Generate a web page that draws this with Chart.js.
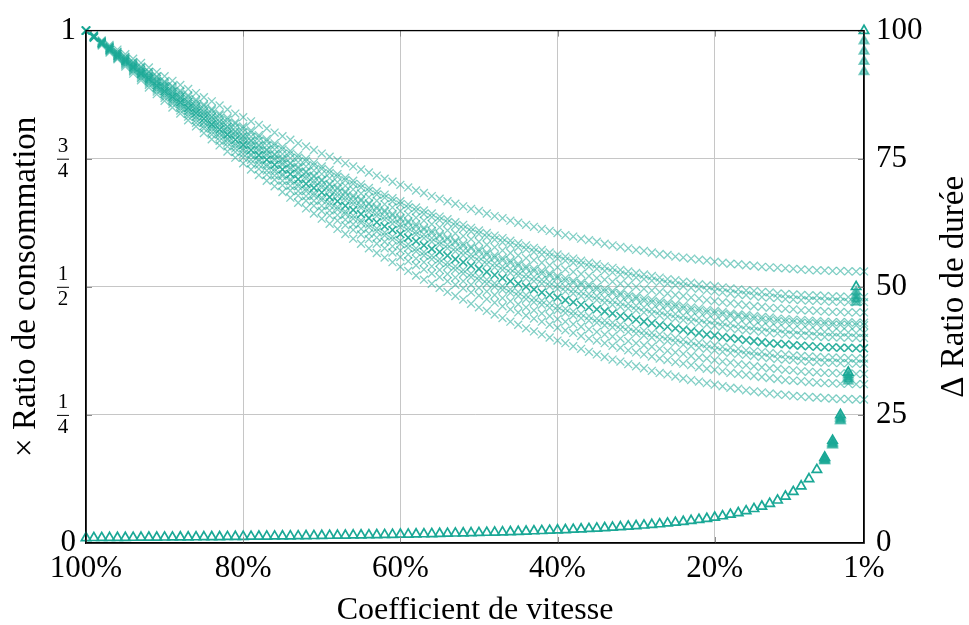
<!DOCTYPE html>
<html>
<head>
<meta charset="utf-8">
<script src="https://cdn.jsdelivr.net/npm/chart.js@4.4.1/dist/chart.umd.min.js"></script>
<style>
  html, body { margin: 0; padding: 0; background: #fff; }
</style>
</head>
<body>
<canvas id="chart" width="969" height="625"></canvas>
<script>
// Coefficient de vitesse (%), one point per percent
const speeds = [100,99,98,97,96,95,94,93,92,91,90,89,88,87,86,85,84,83,82,81,
  80,79,78,77,76,75,74,73,72,71,70,69,68,67,66,65,64,63,62,61,
  60,59,58,57,56,55,54,53,52,51,50,49,48,47,46,45,44,43,42,41,
  40,39,38,37,36,35,34,33,32,31,30,29,28,27,26,25,24,23,22,21,
  20,19,18,17,16,15,14,13,12,11,10,9,8,7,6,5,4,3,2,1];

const xTicks = [100, 80, 60, 40, 20, 1];
const leftTicks = [0, 0.25, 0.5, 0.75, 1];
const leftTickLabels = ['0', ['1','4'], ['1','2'], ['3','4'], '1'];
const rightTicks = [0, 25, 50, 75, 100];

// Ratio de consommation (crosses), one series per run
const conso1 = [1,.991,.981,.972,.963,.954,.945,.937,.928,.919,.911,.902,.894,.886,.878,.870,.862,.854,.846,.838,
  .831,.823,.816,.809,.801,.794,.787,.780,.774,.767,.760,.754,.747,.741,.735,.729,.723,.717,.711,.705,
  .699,.694,.688,.683,.677,.672,.667,.662,.657,.652,.648,.643,.638,.634,.629,.625,.621,.617,.613,.609,
  .605,.601,.598,.594,.591,.588,.584,.581,.578,.575,.572,.570,.567,.564,.562,.559,.557,.555,.553,.551,
  .549,.547,.545,.544,.542,.541,.539,.538,.537,.536,.535,.534,.533,.532,.532,.531,.531,.530,.530,.530];
const conso2 = [1,.990,.979,.969,.959,.949,.939,.930,.920,.911,.901,.892,.883,.874,.865,.856,.847,.838,.830,.821,
  .813,.805,.796,.788,.780,.773,.765,.757,.750,.742,.735,.728,.720,.713,.707,.700,.693,.686,.680,.673,
  .667,.661,.655,.649,.643,.637,.632,.626,.621,.615,.610,.605,.600,.595,.590,.585,.581,.576,.572,.567,
  .563,.559,.555,.551,.547,.544,.540,.537,.533,.530,.527,.524,.521,.518,.515,.513,.510,.508,.505,.503,
  .501,.499,.497,.495,.493,.492,.490,.489,.487,.486,.485,.484,.483,.483,.482,.481,.481,.480,.480,.480];
const conso3 = [1,.989,.979,.969,.958,.948,.938,.928,.919,.909,.899,.890,.880,.871,.862,.853,.844,.835,.826,.818,
  .809,.801,.792,.784,.776,.768,.760,.752,.745,.737,.730,.722,.715,.708,.701,.694,.687,.680,.674,.667,
  .661,.654,.648,.642,.636,.630,.625,.619,.613,.608,.603,.597,.592,.587,.582,.577,.573,.568,.563,.559,
  .555,.551,.547,.543,.539,.535,.531,.528,.524,.521,.518,.515,.512,.509,.506,.503,.501,.498,.496,.493,
  .491,.489,.487,.485,.484,.482,.480,.479,.478,.476,.475,.474,.473,.473,.472,.471,.471,.470,.470,.470];
const conso4 = [1,.989,.978,.968,.957,.946,.936,.926,.916,.905,.896,.886,.876,.866,.857,.847,.838,.829,.820,.811,
  .802,.793,.785,.776,.768,.759,.751,.743,.735,.727,.720,.712,.704,.697,.690,.682,.675,.668,.661,.655,
  .648,.641,.635,.629,.622,.616,.610,.604,.599,.593,.588,.582,.577,.571,.566,.561,.556,.552,.547,.542,
  .538,.534,.529,.525,.521,.517,.514,.510,.506,.503,.500,.496,.493,.490,.487,.484,.482,.479,.477,.474,
  .472,.470,.468,.466,.464,.462,.461,.459,.458,.457,.456,.454,.454,.453,.452,.451,.451,.450,.450,.450];
const conso5 = [1,.989,.977,.966,.955,.944,.934,.923,.912,.902,.892,.882,.871,.861,.852,.842,.832,.823,.813,.804,
  .795,.786,.777,.768,.759,.751,.742,.734,.725,.717,.709,.701,.694,.686,.678,.671,.663,.656,.649,.642,
  .635,.628,.622,.615,.609,.602,.596,.590,.584,.578,.573,.567,.561,.556,.551,.545,.540,.535,.531,.526,
  .521,.517,.512,.508,.504,.500,.496,.492,.488,.485,.481,.478,.475,.472,.469,.466,.463,.460,.458,.455,
  .453,.451,.448,.446,.445,.443,.441,.440,.438,.437,.436,.435,.434,.433,.432,.431,.431,.431,.430,.430];
const conso6 = [1,.988,.977,.965,.954,.942,.931,.920,.909,.899,.888,.877,.867,.857,.846,.836,.826,.816,.807,.797,
  .788,.778,.769,.760,.751,.742,.733,.724,.716,.707,.699,.691,.683,.675,.667,.659,.652,.644,.637,.630,
  .622,.615,.608,.602,.595,.588,.582,.576,.570,.563,.558,.552,.546,.540,.535,.529,.524,.519,.514,.509,
  .504,.500,.495,.491,.486,.482,.478,.474,.470,.467,.463,.460,.456,.453,.450,.447,.444,.441,.439,.436,
  .434,.431,.429,.427,.425,.423,.422,.420,.419,.417,.416,.415,.414,.413,.412,.411,.411,.411,.410,.410];
const conso7 = [1,.988,.976,.965,.953,.942,.930,.919,.908,.897,.886,.875,.865,.854,.844,.834,.823,.813,.803,.794,
  .784,.774,.765,.756,.747,.738,.729,.720,.711,.702,.694,.686,.677,.669,.661,.654,.646,.638,.631,.623,
  .616,.609,.602,.595,.588,.582,.575,.569,.562,.556,.550,.544,.538,.533,.527,.522,.516,.511,.506,.501,
  .496,.491,.487,.482,.478,.474,.469,.465,.461,.458,.454,.450,.447,.444,.441,.438,.435,.432,.429,.426,
  .424,.422,.419,.417,.415,.414,.412,.410,.409,.407,.406,.405,.404,.403,.402,.402,.401,.401,.400,.400];
const conso8 = [1,.988,.975,.963,.951,.940,.928,.916,.905,.893,.882,.871,.860,.849,.839,.828,.817,.807,.797,.787,
  .777,.767,.757,.748,.738,.729,.720,.710,.701,.693,.684,.675,.667,.658,.650,.642,.634,.626,.618,.611,
  .603,.596,.589,.581,.574,.568,.561,.554,.548,.541,.535,.529,.523,.517,.511,.506,.500,.495,.489,.484,
  .479,.474,.470,.465,.460,.456,.452,.448,.443,.440,.436,.432,.429,.425,.422,.419,.416,.413,.410,.407,
  .405,.402,.400,.398,.396,.394,.392,.390,.389,.388,.386,.385,.384,.383,.382,.382,.381,.381,.380,.380];
const conso9 = [1,.987,.975,.962,.950,.938,.926,.914,.902,.890,.878,.867,.856,.844,.833,.822,.812,.801,.790,.780,
  .770,.759,.749,.739,.730,.720,.710,.701,.692,.683,.674,.665,.656,.647,.639,.630,.622,.614,.606,.598,
  .590,.583,.575,.568,.561,.554,.547,.540,.533,.526,.520,.514,.507,.501,.495,.490,.484,.478,.473,.468,
  .462,.457,.452,.448,.443,.438,.434,.430,.426,.422,.418,.414,.410,.407,.403,.400,.397,.394,.391,.388,
  .386,.383,.381,.379,.376,.374,.373,.371,.369,.368,.366,.365,.364,.363,.362,.362,.361,.361,.360,.360];
const conso10 = [1,.987,.973,.960,.947,.935,.922,.909,.897,.885,.873,.861,.849,.837,.826,.814,.803,.792,.781,.770,
  .759,.748,.738,.727,.717,.707,.697,.687,.677,.668,.658,.649,.640,.631,.622,.613,.604,.596,.588,.579,
  .571,.563,.555,.548,.540,.533,.525,.518,.511,.504,.498,.491,.484,.478,.472,.466,.460,.454,.448,.443,
  .437,.432,.427,.422,.417,.412,.407,.403,.399,.394,.390,.386,.383,.379,.375,.372,.369,.365,.362,.360,
  .357,.354,.352,.349,.347,.345,.343,.341,.340,.338,.337,.335,.334,.333,.332,.332,.331,.331,.330,.330];
const conso11 = [1,.986,.973,.959,.946,.933,.920,.907,.894,.881,.869,.857,.844,.832,.820,.809,.797,.785,.774,.763,
  .752,.741,.730,.719,.709,.698,.688,.678,.668,.658,.648,.639,.629,.620,.611,.602,.593,.584,.575,.567,
  .558,.550,.542,.534,.526,.519,.511,.504,.497,.489,.483,.476,.469,.462,.456,.450,.444,.438,.432,.426,
  .420,.415,.410,.404,.399,.395,.390,.385,.381,.376,.372,.368,.364,.360,.357,.353,.350,.347,.343,.340,
  .338,.335,.332,.330,.328,.326,.324,.322,.320,.318,.317,.316,.314,.313,.312,.312,.311,.311,.310,.310];
const conso12 = [1,.986,.971,.957,.944,.930,.916,.903,.889,.876,.863,.850,.838,.825,.813,.800,.788,.776,.764,.752,
  .741,.729,.718,.707,.696,.685,.674,.664,.653,.643,.633,.623,.613,.603,.594,.584,.575,.566,.557,.548,
  .539,.531,.522,.514,.506,.498,.490,.482,.475,.467,.460,.453,.446,.439,.432,.426,.419,.413,.407,.401,
  .395,.390,.384,.379,.373,.368,.363,.358,.354,.349,.345,.341,.336,.332,.329,.325,.321,.318,.315,.312,
  .309,.306,.303,.301,.298,.296,.294,.292,.290,.289,.287,.286,.285,.284,.283,.282,.281,.281,.280,.280];
const conso13 = [1,.989,.977,.966,.955,.944,.933,.922,.912,.901,.891,.880,.870,.860,.850,.840,.831,.821,.812,.802,
  .793,.784,.775,.766,.757,.748,.740,.731,.723,.715,.707,.699,.691,.683,.675,.668,.661,.653,.646,.639,
  .632,.625,.618,.612,.605,.599,.593,.587,.580,.575,.569,.563,.557,.552,.547,.541,.536,.531,.526,.522,
  .517,.512,.508,.504,.500,.495,.491,.488,.484,.480,.477,.473,.470,.467,.464,.461,.458,.455,.453,.450,
  .448,.446,.444,.442,.440,.438,.436,.435,.433,.432,.431,.430,.429,.428,.427,.426,.426,.426,.425,.425];
const conso14 = [1,.987,.974,.962,.949,.937,.924,.912,.900,.888,.877,.865,.853,.842,.831,.820,.809,.798,.787,.776,
  .766,.756,.745,.735,.725,.716,.706,.696,.687,.678,.669,.659,.651,.642,.633,.625,.616,.608,.600,.592,
  .584,.576,.569,.561,.554,.547,.540,.533,.526,.519,.513,.506,.500,.494,.488,.482,.476,.470,.465,.459,
  .454,.449,.444,.439,.434,.430,.425,.421,.417,.412,.409,.405,.401,.397,.394,.391,.387,.384,.381,.379,
  .376,.373,.371,.369,.367,.365,.363,.361,.359,.358,.357,.355,.354,.353,.352,.352,.351,.351,.350,.350];

// Ratio de durée (triangles)
const duree = [1.00,1.01,1.02,1.03,1.04,1.05,1.06,1.08,1.09,1.10,1.11,1.12,1.14,1.15,1.16,1.18,1.19,1.20,1.22,1.23,
  1.25,1.27,1.28,1.30,1.32,1.33,1.35,1.37,1.39,1.41,1.43,1.45,1.47,1.49,1.52,1.54,1.56,1.59,1.61,1.64,
  1.67,1.69,1.72,1.75,1.79,1.82,1.85,1.89,1.92,1.96,2.00,2.04,2.08,2.13,2.17,2.22,2.27,2.33,2.38,2.44,
  2.50,2.56,2.63,2.70,2.78,2.86,2.94,3.03,3.13,3.23,3.33,3.45,3.57,3.70,3.85,4.00,4.17,4.35,4.55,4.76,
  5.00,5.26,5.56,5.88,6.25,6.67,7.14,7.69,8.33,9.09,10.0,11.1,12.5,14.3,16.7,20.0,25.0,33.3,50.0,100];
// a few runs that end a bit lower at the slowest speeds
const dureeLowSpeeds = [6, 5, 4, 3, 2, 1];
const duree2 = [16.5, 19.7, 24.6, 32.8, 49.0, 98];
const duree3 = [16.3, 19.5, 24.3, 32.4, 48.3, 96];
const duree4 = [16.1, 19.3, 24.0, 32.0, 47.6, 94];
const duree5 = [16.0, 19.1, 23.8, 31.6, 47.0, 92];

const teal = 'rgb(26,168,150)';
const tealLight = 'rgba(26,168,150,0.55)';
const fontFamily = '"Liberation Serif", "Times New Roman", serif';

const toPoints = (xs, ys) => xs.map((x, i) => ({ x: x, y: ys[i] }));

const consoSeries = [conso1, conso2, conso3, conso4, conso13, conso5, conso6, conso7, conso8,
  conso9, conso14, conso10, conso11, conso12];
const datasets = [];

datasets.push({
  label: 'Ratio de durée', yAxisID: 'y2', order: 0,
  data: toPoints(speeds, duree),
  pointStyle: 'triangle', pointRadius: 5.4, borderWidth: 1.7,
  borderColor: teal, backgroundColor: 'rgba(255,255,255,0)'
});
[duree2, duree3, duree4, duree5].forEach((d, i) => {
  datasets.push({
    label: 'Ratio de durée ' + (i + 2), yAxisID: 'y2', order: 0,
    data: toPoints(dureeLowSpeeds, d),
    pointStyle: 'triangle', pointRadius: 5.4, borderWidth: 1.7,
    borderColor: tealLight, backgroundColor: tealLight
  });
});
consoSeries.forEach((s, i) => {
  const dark = (s === conso8);
  datasets.push({
    label: 'Ratio de consommation ' + (i + 1), yAxisID: 'y', order: dark ? 1 : 2,
    data: toPoints(speeds, s),
    pointStyle: 'crossRot', pointRadius: 5.6, borderWidth: dark ? 1.6 : 1.3,
    borderColor: dark ? 'rgba(26,168,150,0.9)' : tealLight
  });
});
datasets.forEach(d => { d.clip = false; d.showLine = false; });

// frame, inner tick marks, left fraction labels and axis titles
const decorations = {
  id: 'decorations',
  afterDraw(chart) {
    const { ctx, chartArea: a, scales } = chart;
    ctx.save();
    ctx.strokeStyle = '#8c8c8c';
    ctx.lineWidth = 1;
    xTicks.forEach(v => {
      const px = Math.round(scales.x.getPixelForValue(v)) + 0.5;
      ctx.beginPath();
      ctx.moveTo(px, a.bottom); ctx.lineTo(px, a.bottom - 6);
      ctx.moveTo(px, a.top); ctx.lineTo(px, a.top + 6);
      ctx.stroke();
    });
    leftTicks.forEach(v => {
      const py = Math.round(scales.y.getPixelForValue(v)) + 0.5;
      ctx.beginPath();
      ctx.moveTo(a.left, py); ctx.lineTo(a.left + 6, py);
      ctx.moveTo(a.right, py); ctx.lineTo(a.right - 6, py);
      ctx.stroke();
    });

    ctx.strokeStyle = '#000';
    ctx.lineWidth = 1.3;
    ctx.strokeRect(a.left, a.top, a.right - a.left, a.bottom - a.top);

    ctx.fillStyle = '#000';
    ctx.textBaseline = 'middle';
    leftTicks.forEach((v, i) => {
      const py = scales.y.getPixelForValue(v);
      const lab = leftTickLabels[i];
      if (Array.isArray(lab)) {
        const cx = a.left - 23;
        ctx.font = '21px ' + fontFamily;
        ctx.textAlign = 'center';
        ctx.fillText(lab[0], cx, py - 12);
        ctx.fillText(lab[1], cx, py + 13);
        ctx.lineWidth = 1;
        ctx.beginPath();
        ctx.moveTo(cx - 6, py + 0.5); ctx.lineTo(cx + 6, py + 0.5);
        ctx.stroke();
      } else {
        ctx.font = '31px ' + fontFamily;
        ctx.textAlign = 'right';
        ctx.fillText(lab, a.left - 10, py);
      }
    });

    const midY = (a.top + a.bottom) / 2;
    ctx.font = '33px ' + fontFamily;
    ctx.textAlign = 'center';
    ctx.textBaseline = 'alphabetic';
    ctx.save();
    ctx.translate(35, midY);
    ctx.rotate(-Math.PI / 2);
    ctx.fillText('× Ratio de consommation', 0, 0);
    ctx.restore();
    ctx.save();
    ctx.translate(chart.width - 6, midY);
    ctx.rotate(-Math.PI / 2);
    ctx.fillText('Δ Ratio de durée', 0, 0);
    ctx.restore();
    ctx.font = '32px ' + fontFamily;
    ctx.fillText('Coefficient de vitesse', (a.left + a.right) / 2, chart.height - 6);
    ctx.restore();
  }
};

new Chart(document.getElementById('chart').getContext('2d'), {
  type: 'scatter',
  data: { datasets: datasets },
  options: {
    responsive: false,
    animation: false,
    events: [],
    layout: { padding: { top: 25, left: 0, right: 0, bottom: 0 } },
    plugins: { legend: { display: false }, tooltip: { enabled: false } },
    scales: {
      x: {
        type: 'linear', position: 'bottom', reverse: true, min: 1, max: 100,
        afterBuildTicks: s => { s.ticks = xTicks.map(v => ({ value: v })); },
        afterFit: s => { s.height = 82; },
        grid: { color: '#c6c6c6', drawTicks: false },
        border: { color: '#000', width: 1.3 },
        ticks: { color: '#000', font: { family: fontFamily, size: 31 }, padding: 7, maxRotation: 0,
                 callback: v => v + '%' }
      },
      y: {
        type: 'linear', position: 'left', min: 0, max: 1,
        afterBuildTicks: s => { s.ticks = leftTicks.map(v => ({ value: v })); },
        afterFit: s => { s.width = 86; },
        grid: { color: '#c6c6c6', drawTicks: false },
        border: { color: '#000', width: 1.3 },
        ticks: { display: false }
      },
      y2: {
        type: 'linear', position: 'right', min: 0, max: 100,
        afterBuildTicks: s => { s.ticks = rightTicks.map(v => ({ value: v })); },
        afterFit: s => { s.width = 105; },
        grid: { display: false, drawTicks: false },
        border: { color: '#000', width: 1.3 },
        ticks: { color: '#000', font: { family: fontFamily, size: 31 }, padding: 12 }
      }
    }
  },
  plugins: [decorations]
});
</script>
</body>
</html>
